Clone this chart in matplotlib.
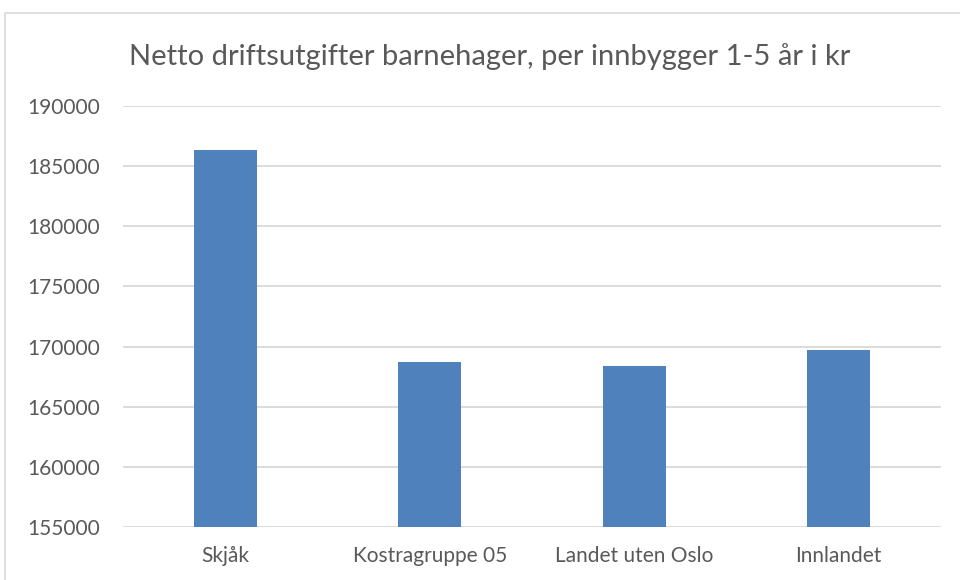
import matplotlib
matplotlib.use('Agg')
import matplotlib.pyplot as plt
from matplotlib.patches import Rectangle

categories = ['Skjåk', 'Kostragruppe 05', 'Landet uten Oslo', 'Innlandet']
values = [186330, 168680, 168370, 169680]
yticks = [155000, 160000, 165000, 170000, 175000, 180000, 185000, 190000]

plt.rcParams['font.family'] = ['Lato', 'DejaVu Sans']

fig = plt.figure(figsize=(9.6, 5.8), dpi=100)
fig.patches.append(Rectangle((5 / 960, -0.1), 1.2, 1 - 13 / 580 + 0.1,
                             transform=fig.transFigure, fill=False,
                             edgecolor='#d9d9d9', linewidth=1.2))

ax = fig.add_axes([123 / 960, 53 / 580, 818 / 960, 421 / 580])
x = range(len(categories))
ax.bar(x, values, width=0.31, color='#4f81bd', zorder=3)
ax.set_xlim(-0.5, len(categories) - 0.5)
ax.set_ylim(yticks[0], yticks[-1])
ax.set_yticks(yticks)
ax.set_yticklabels([str(v) for v in yticks])
ax.set_xticks(list(x))
ax.set_xticklabels(categories)
ax.grid(axis='y', color='#d9d9d9', linewidth=1.3, zorder=0)
for s in ax.spines.values():
    s.set_visible(False)
ax.tick_params(length=0, labelsize=15, colors='#595959')
ax.tick_params(axis='x', pad=14)
ax.tick_params(axis='y', pad=16.5)

fig.text(490 / 960, 1 - 57 / 580, 'Netto driftsutgifter barnehager, per innbygger 1-5 år i kr',
         ha='center', va='center', fontsize=21, color='#595959')

fig.savefig('out.png', dpi=100)
